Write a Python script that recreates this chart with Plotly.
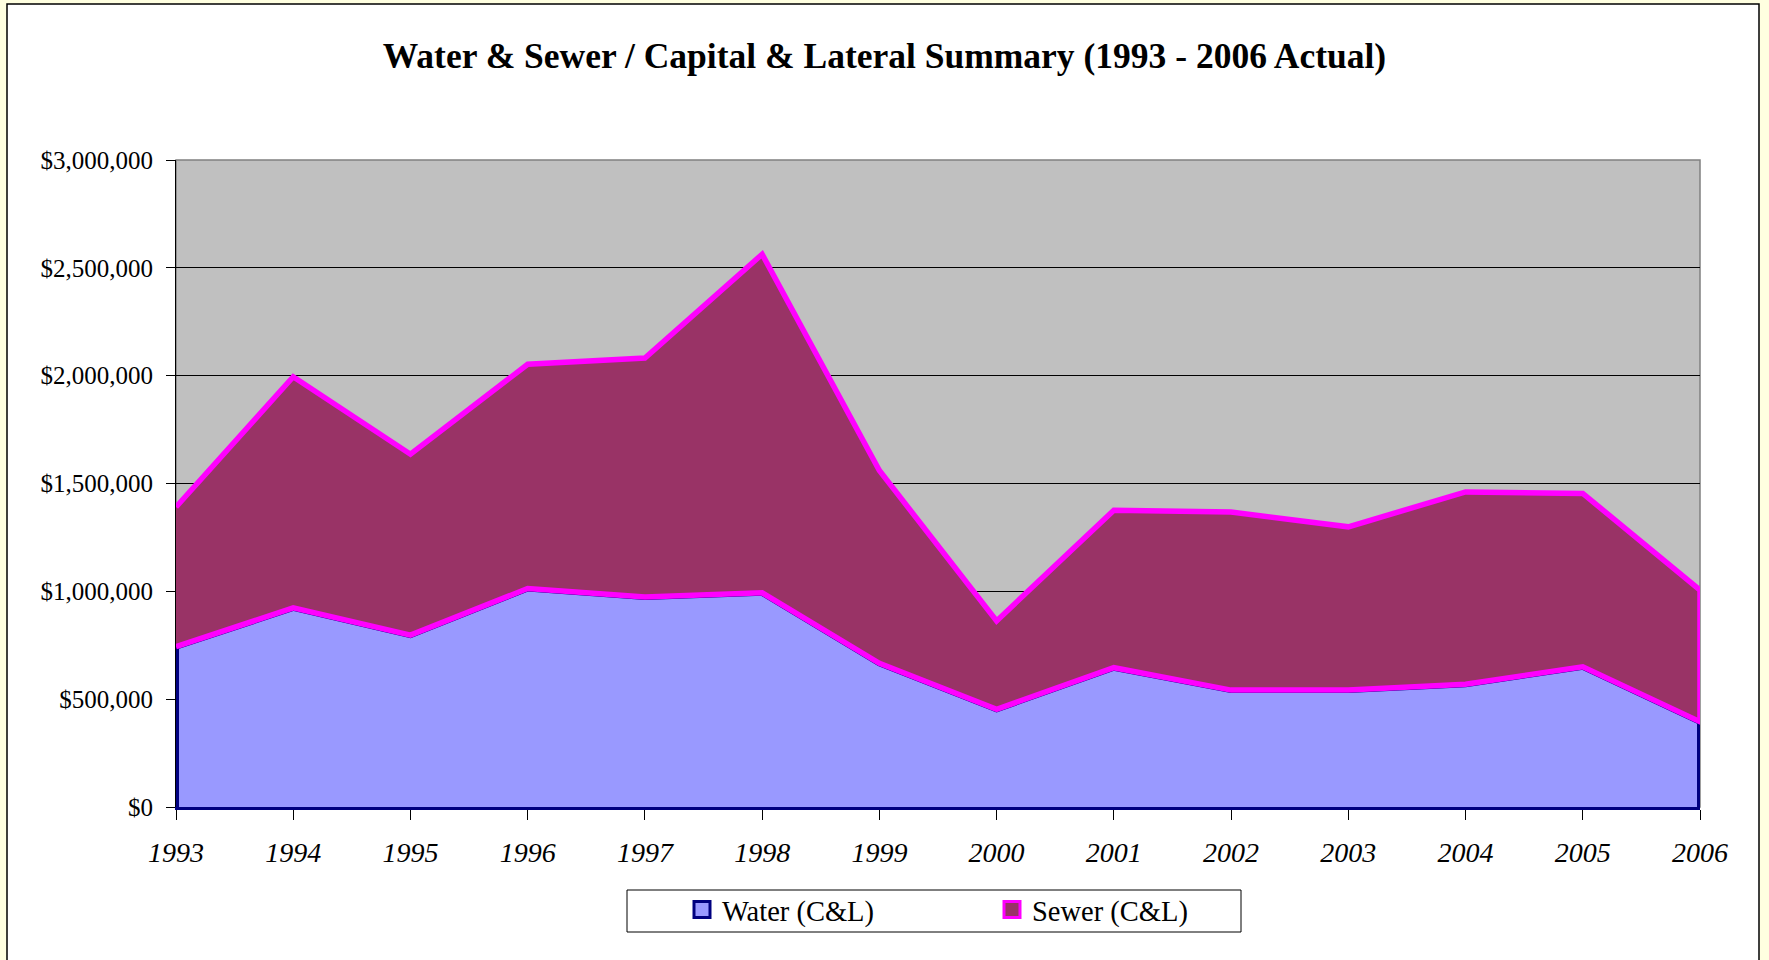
import plotly.graph_objects as go

# ---- data ----
years = [1993, 1994, 1995, 1996, 1997, 1998, 1999, 2000, 2001, 2002, 2003, 2004, 2005, 2006]
water = [743000, 923000, 797000, 1013000, 974000, 993000, 666000, 453000, 646000, 542000, 542000, 569000, 650000, 395000]
sewer = [648000, 1072000, 839000, 1040000, 1108000, 1570000, 894000, 410000, 730000, 826000, 757000, 892000, 804000, 611000]
year_labels = [str(y) for y in years]
y_ticks = [0, 500000, 1000000, 1500000, 2000000, 2500000, 3000000]
y_tick_labels = ["$" + f"{v:,}" for v in y_ticks]

title_text = "Water & Sewer / Capital & Lateral Summary (1993 - 2006 Actual)"
series_names = ["Water (C&L)", "Sewer (C&L)"]

totals = [w + s for w, s in zip(water, sewer)]

W, H = 1769, 960
L, R, T, B = 176, 1700, 160, 807  # plot area in px


def px_x(p):
    return (p - L) / (R - L)


def px_y(p):
    return (B - p) / (B - T)


FONT = "Liberation Serif, Times New Roman, serif"

fig = go.Figure()

# Water area (closed polygon down to zero)
fig.add_trace(go.Scatter(
    x=[years[0]] + years + [years[-1]],
    y=[0] + water + [0],
    mode="lines", fill="toself", fillcolor="#9999FF",
    line=dict(color="#000080", width=6),
    showlegend=False, hoverinfo="skip",
))

# Sewer area stacked on water
fig.add_trace(go.Scatter(
    x=years + years[::-1],
    y=totals + water[::-1],
    mode="lines", fill="toself", fillcolor="#993366",
    line=dict(color="#FF00FF", width=5.5),
    showlegend=False, hoverinfo="skip",
))

# Legend entries
fig.add_trace(go.Scatter(
    x=[None], y=[None], mode="markers", name=series_names[0],
    marker=dict(symbol="square", size=16, color="#9999FF", line=dict(color="#000080", width=3)),
))
fig.add_trace(go.Scatter(
    x=[None], y=[None], mode="markers", name=series_names[1],
    marker=dict(symbol="square", size=16, color="#993366", line=dict(color="#FF00FF", width=3)),
))

shapes = [
    # white chart area with black border
    dict(type="rect", xref="paper", yref="paper", layer="below",
         x0=px_x(7), x1=px_x(1759), y0=px_y(966), y1=px_y(4),
         fillcolor="white", line=dict(color="black", width=1.5)),
    # grey plot area
    dict(type="rect", xref="paper", yref="paper", layer="below",
         x0=0, x1=1, y0=0, y1=1,
         fillcolor="#C0C0C0", line=dict(color="#808080", width=1.5)),
    # legend box
    dict(type="rect", xref="paper", yref="paper", layer="above",
         x0=px_x(627), x1=px_x(1241), y0=px_y(932), y1=px_y(890),
         fillcolor="rgba(0,0,0,0)", line=dict(color="black", width=1)),
]

fig.update_layout(
    width=W, height=H,
    margin=dict(l=L, r=W - R, t=T, b=H - B, pad=0),
    paper_bgcolor="#FFFFE0",
    plot_bgcolor="rgba(0,0,0,0)",
    font=dict(family=FONT, color="black"),
    title=dict(text="<b>" + title_text + "</b>", font=dict(family=FONT, size=35.5, color="black"),
               x=0.5, xref="container", xanchor="center",
               y=1 - 56 / H, yref="container", yanchor="middle"),
    shapes=shapes,
    showlegend=True,
    legend=dict(orientation="h", xref="paper", x=px_x(682), xanchor="left",
                yref="container", y=1 - 910 / H, yanchor="middle",
                font=dict(family=FONT, size=28.5, color="black"),
                bgcolor="rgba(0,0,0,0)", borderwidth=0,
                entrywidth=265, entrywidthmode="pixels",
                itemclick=False, itemdoubleclick=False),
    xaxis=dict(
        range=[years[0], years[-1]], tickmode="array", tickvals=years, ticktext=year_labels,
        showgrid=False, zeroline=False, showline=True, linecolor="#000080", linewidth=3,
        ticks="outside", ticklen=10, tickcolor="black", tickwidth=1,
        tickfont=dict(family=FONT, size=28, style="italic", color="black"),
        ticklabelstandoff=8, fixedrange=True,
    ),
    yaxis=dict(
        range=[0, 3000000], tickmode="array", tickvals=y_ticks, ticktext=y_tick_labels,
        showgrid=True, gridcolor="black", gridwidth=1,
        zeroline=False, showline=True, linecolor="black", linewidth=1,
        ticks="outside", ticklen=9, tickcolor="black", tickwidth=1,
        tickfont=dict(family=FONT, size=25, color="black"),
        ticklabelstandoff=8, fixedrange=True,
    ),
)

fig.write_html("out.html", config={"displayModeBar": False},
               post_script="document.body.style.margin='0';")
